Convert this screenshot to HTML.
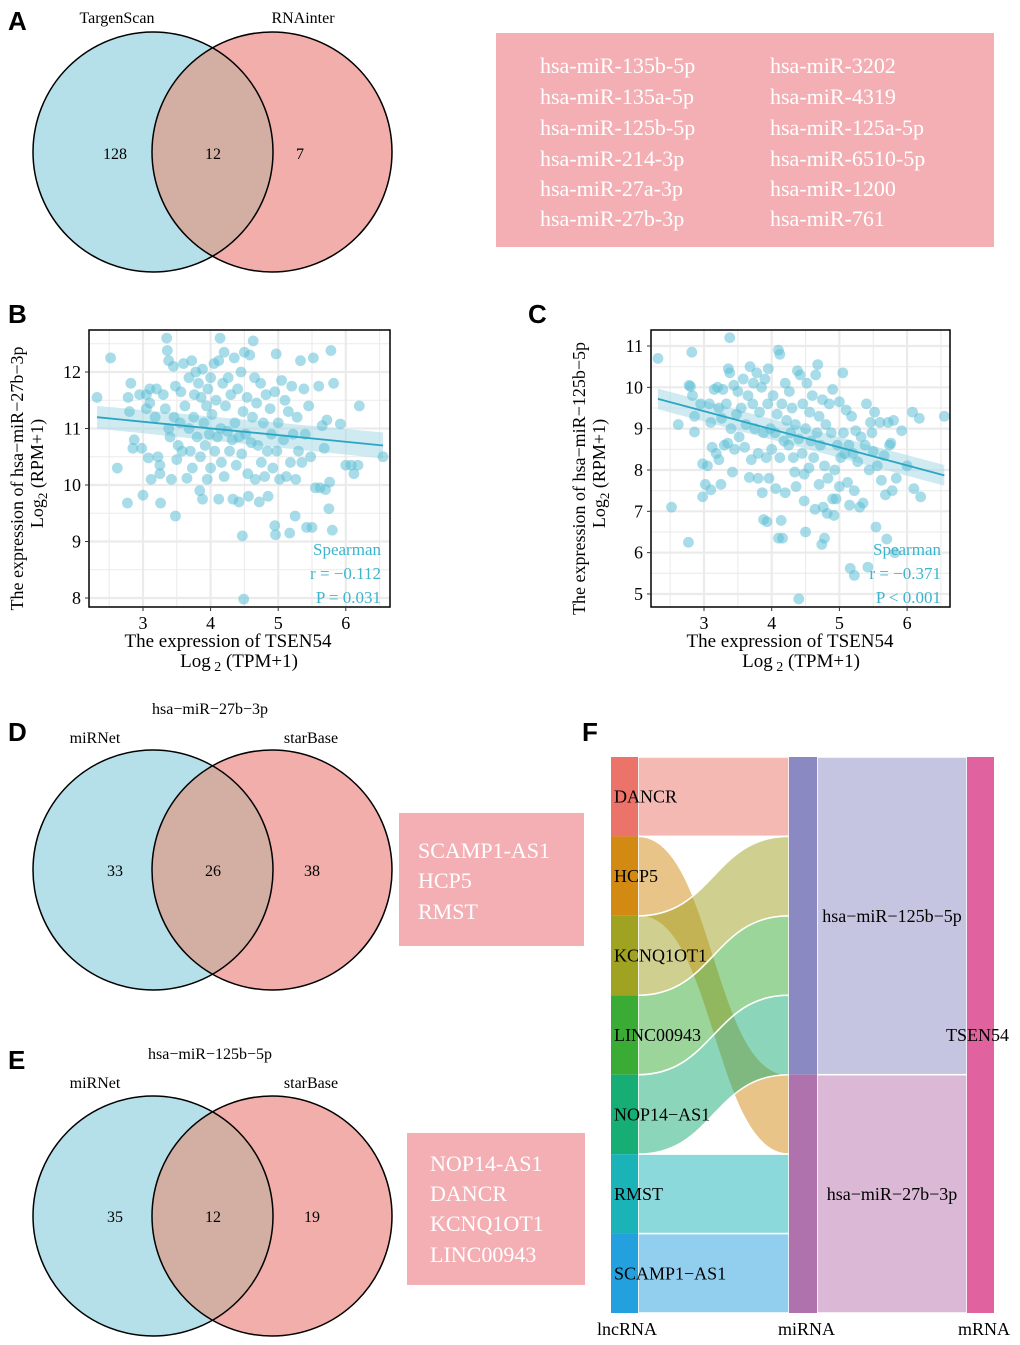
<!DOCTYPE html>
<html><head><meta charset="utf-8"><style>
html,body{margin:0;padding:0;background:#fff}
svg{display:block}
text{font-family:"Liberation Serif",serif}
.let{font-family:"Liberation Sans",sans-serif;font-weight:bold;font-size:26px}
.wt{fill:#fff;font-size:22px}
</style></head><body>
<svg id="fig" width="1020" height="1345" viewBox="0 0 1020 1345" xmlns="http://www.w3.org/2000/svg">
<defs>
<clipPath id="cA"><circle cx="153" cy="152" r="120"/></clipPath>
<clipPath id="cD"><circle cx="153" cy="870" r="120"/></clipPath>
<clipPath id="cE"><circle cx="153" cy="1216" r="120"/></clipPath>
</defs>
<text class="let" x="8" y="30">A</text>
<text class="let" x="8" y="323">B</text>
<text class="let" x="528" y="323">C</text>
<text class="let" x="8" y="741">D</text>
<text class="let" x="8" y="1069">E</text>
<text class="let" x="582" y="741">F</text>

<g>
<circle cx="153" cy="152" r="120" fill="#b5e0e9"/>
<circle cx="272" cy="152" r="120" fill="#f1aeaa"/>
<circle cx="272" cy="152" r="120" fill="#d3aea2" clip-path="url(#cA)"/>
<circle cx="153" cy="152" r="120" fill="none" stroke="#000" stroke-width="1.5"/>
<circle cx="272" cy="152" r="120" fill="none" stroke="#000" stroke-width="1.5"/>
<text x="117" y="23" font-size="16" text-anchor="middle">TargenScan</text>
<text x="303" y="23" font-size="16" text-anchor="middle">RNAinter</text>
<text x="115" y="159" font-size="16" text-anchor="middle">128</text>
<text x="213" y="159" font-size="16" text-anchor="middle">12</text>
<text x="300" y="159" font-size="16" text-anchor="middle">7</text>
</g>
<g>
<rect x="496" y="33" width="498" height="214" fill="#f3afb4"/>
<g class="wt">
<text x="540" y="73">hsa-miR-135b-5p</text><text x="770" y="73">hsa-miR-3202</text>
<text x="540" y="104">hsa-miR-135a-5p</text><text x="770" y="104">hsa-miR-4319</text>
<text x="540" y="135">hsa-miR-125b-5p</text><text x="770" y="135">hsa-miR-125a-5p</text>
<text x="540" y="166">hsa-miR-214-3p</text><text x="770" y="166">hsa-miR-6510-5p</text>
<text x="540" y="196">hsa-miR-27a-3p</text><text x="770" y="196">hsa-miR-1200</text>
<text x="540" y="226">hsa-miR-27b-3p</text><text x="770" y="226">hsa-miR-761</text>
</g></g>

<g>
<text x="210" y="714" font-size="16" text-anchor="middle">hsa−miR−27b−3p</text>
<text x="95" y="743" font-size="16" text-anchor="middle">miRNet</text>
<text x="311" y="743" font-size="16" text-anchor="middle">starBase</text>
<circle cx="153" cy="870" r="120" fill="#b5e0e9"/>
<circle cx="272" cy="870" r="120" fill="#f1aeaa"/>
<circle cx="272" cy="870" r="120" fill="#d3aea2" clip-path="url(#cD)"/>
<circle cx="153" cy="870" r="120" fill="none" stroke="#000" stroke-width="1.5"/>
<circle cx="272" cy="870" r="120" fill="none" stroke="#000" stroke-width="1.5"/>
<text x="115" y="876" font-size="16" text-anchor="middle">33</text>
<text x="213" y="876" font-size="16" text-anchor="middle">26</text>
<text x="312" y="876" font-size="16" text-anchor="middle">38</text>
</g>
<g>
<rect x="399" y="813" width="185" height="133" fill="#f3afb4"/>
<g class="wt"><text x="418" y="858">SCAMP1-AS1</text><text x="418" y="888">HCP5</text><text x="418" y="919">RMST</text></g>
</g>

<g>
<text x="210" y="1059" font-size="16" text-anchor="middle">hsa−miR−125b−5p</text>
<text x="95" y="1088" font-size="16" text-anchor="middle">miRNet</text>
<text x="311" y="1088" font-size="16" text-anchor="middle">starBase</text>
<circle cx="153" cy="1216" r="120" fill="#b5e0e9"/>
<circle cx="272" cy="1216" r="120" fill="#f1aeaa"/>
<circle cx="272" cy="1216" r="120" fill="#d3aea2" clip-path="url(#cE)"/>
<circle cx="153" cy="1216" r="120" fill="none" stroke="#000" stroke-width="1.5"/>
<circle cx="272" cy="1216" r="120" fill="none" stroke="#000" stroke-width="1.5"/>
<text x="115" y="1222" font-size="16" text-anchor="middle">35</text>
<text x="213" y="1222" font-size="16" text-anchor="middle">12</text>
<text x="312" y="1222" font-size="16" text-anchor="middle">19</text>
</g>
<g>
<rect x="407" y="1133" width="178" height="152" fill="#f3afb4"/>
<g class="wt"><text x="430" y="1171">NOP14-AS1</text><text x="430" y="1201">DANCR</text><text x="430" y="1231">KCNQ1OT1</text><text x="430" y="1262">LINC00943</text></g>
</g>

<g id="scatterB"></g>
<g id="scatterC"></g>
<g id="sankey"></g>
</svg>
<script>
const NS="http://www.w3.org/2000/svg";
const bX=[2.32,2.52,2.62,2.77,2.78,2.8,2.82,2.85,2.87,2.95,2.98,3.0,3.05,3.05,3.08,3.1,3.1,3.12,3.18,3.2,3.22,3.25,3.25,3.26,3.3,3.33,3.35,3.36,3.38,3.38,3.4,3.42,3.45,3.46,3.48,3.48,3.5,3.52,3.55,3.56,3.58,3.6,3.62,3.65,3.68,3.68,3.7,3.72,3.73,3.75,3.76,3.78,3.8,3.82,3.84,3.85,3.86,3.88,3.88,3.9,3.92,3.94,3.95,3.96,3.98,4.0,4.0,4.02,4.05,4.06,4.08,4.1,4.12,4.12,4.14,4.15,4.16,4.18,4.2,4.2,4.22,4.25,4.26,4.28,4.3,4.32,4.33,4.35,4.36,4.38,4.4,4.42,4.42,4.45,4.46,4.48,4.47,4.49,4.5,4.52,4.54,4.55,4.56,4.58,4.6,4.62,4.63,4.65,4.66,4.68,4.7,4.72,4.74,4.75,4.78,4.8,4.82,4.84,4.85,4.88,4.9,4.92,4.95,4.95,4.96,4.97,4.98,5.0,5.02,5.05,5.08,5.1,5.12,5.15,5.17,5.18,5.2,5.22,5.25,5.26,5.28,5.3,5.33,5.35,5.38,5.4,5.42,5.45,5.48,5.5,5.52,5.55,5.6,5.62,5.65,5.68,5.7,5.72,5.75,5.76,5.78,5.8,5.82,5.92,6.0,6.08,6.12,6.18,6.2,6.55];
const bY=[11.55,12.25,10.3,9.68,11.55,11.3,11.8,10.65,10.8,11.6,10.65,9.82,11.35,11.6,10.48,11.7,11.45,10.1,11.2,11.7,10.5,10.35,10.2,9.68,11.6,11.35,12.6,12.38,11.0,12.2,10.85,10.1,12.1,11.2,9.45,11.75,10.45,10.7,11.1,11.65,10.6,12.15,11.4,10.12,11.9,11.0,10.6,12.2,10.3,11.2,11.6,12.0,10.85,11.8,9.9,10.5,11.55,12.05,9.75,11.1,10.7,11.4,10.1,11.7,10.9,11.9,10.3,11.25,12.15,10.6,11.5,10.85,12.2,9.75,12.6,11.0,10.4,11.8,12.35,10.15,11.4,10.95,11.9,10.6,11.6,10.8,9.75,12.25,11.1,10.35,11.7,10.85,9.7,12.0,10.55,11.3,9.1,7.98,12.35,10.9,11.55,10.2,9.8,12.3,10.75,11.2,12.55,11.9,10.1,11.45,10.7,9.7,11.8,10.4,11.1,10.15,11.6,10.6,9.8,11.35,10.9,10.3,11.65,9.28,9.12,12.32,10.6,11.1,10.1,11.85,10.8,11.5,10.15,11.3,9.15,10.4,11.75,10.9,9.45,10.1,11.2,10.6,12.2,10.4,11.7,10.9,9.25,11.4,10.5,9.25,12.25,9.95,11.75,9.95,11.05,10.65,9.92,11.15,9.58,10.05,12.38,9.2,11.8,11.08,10.35,10.35,10.2,10.35,11.4,10.5];
const bFitX=[2.32,6.55], bFitY=[11.2,10.7];
const bXTicks=[3,4,5,6], bYTicks=[8,9,10,11,12];
const cX=[2.32,2.52,2.62,2.77,2.78,2.8,2.82,2.83,2.86,2.86,2.95,2.98,2.98,3.02,3.05,3.08,3.1,3.1,3.12,3.15,3.18,3.2,3.22,3.22,3.25,3.26,3.28,3.3,3.33,3.35,3.36,3.38,3.38,3.4,3.42,3.44,3.45,3.48,3.5,3.52,3.55,3.58,3.6,3.62,3.65,3.67,3.68,3.7,3.72,3.73,3.75,3.78,3.8,3.8,3.82,3.85,3.86,3.88,3.88,3.9,3.92,3.93,3.94,3.95,3.96,3.98,4.0,4.02,4.05,4.06,4.08,4.1,4.1,4.12,4.12,4.14,4.15,4.16,4.18,4.2,4.2,4.22,4.25,4.26,4.28,4.3,4.32,4.34,4.35,4.36,4.38,4.4,4.4,4.42,4.45,4.46,4.48,4.48,4.5,4.5,4.52,4.55,4.56,4.58,4.6,4.62,4.64,4.65,4.67,4.68,4.7,4.7,4.72,4.74,4.75,4.76,4.78,4.78,4.8,4.82,4.83,4.85,4.88,4.9,4.9,4.92,4.93,4.95,4.97,5.0,5.0,5.02,5.05,5.06,5.08,5.1,5.12,5.14,5.15,5.16,5.18,5.2,5.22,5.22,5.24,5.27,5.3,5.32,5.35,5.38,5.4,5.42,5.44,5.46,5.48,5.5,5.52,5.54,5.56,5.6,5.62,5.66,5.68,5.7,5.72,5.74,5.76,5.78,5.8,5.82,5.84,5.92,6.0,6.08,6.1,6.18,6.2,6.55];
const cY=[10.7,7.1,9.1,6.25,10.05,10.02,10.85,9.8,9.3,8.92,9.6,8.15,7.35,7.65,8.1,9.6,7.52,9.15,8.55,9.95,8.4,10.0,9.5,8.25,7.65,9.25,9.95,8.6,9.6,8.65,10.45,11.2,10.35,9.0,7.95,10.05,8.5,9.35,9.9,8.8,9.5,10.2,8.55,9.1,9.8,7.82,10.5,8.25,9.6,10.1,9.0,10.35,7.8,8.4,9.4,10.0,7.45,8.9,6.8,10.2,8.3,6.75,9.6,10.45,7.8,9.0,8.5,9.8,8.9,7.55,9.35,10.9,6.35,8.3,10.8,6.78,9.6,6.35,8.7,7.45,10.1,9.2,8.6,9.9,8.9,9.5,8.3,7.95,9.1,7.6,10.4,8.75,4.88,10.3,8.4,9.6,7.9,7.25,9.0,6.5,10.1,8.05,9.4,8.7,9.8,8.3,7.05,10.3,8.9,10.55,7.65,9.3,8.6,6.2,9.7,7.1,6.35,8.1,9.1,6.95,7.8,9.6,8.9,9.95,7.3,6.9,8.0,7.3,8.6,9.65,7.6,8.3,10.35,8.9,8.4,9.45,7.7,8.6,7.15,5.62,9.3,8.4,5.45,7.5,8.95,8.2,7.1,8.8,7.2,8.6,9.6,5.65,8.0,9.15,8.9,8.45,9.4,6.62,8.1,9.15,7.75,8.35,7.4,6.33,9.15,8.6,8.65,7.5,9.2,6.0,7.8,8.95,8.1,9.4,7.55,9.25,7.35,9.3];
const cFitX=[2.32,6.55], cFitY=[9.72,7.87];
const cXTicks=[3,4,5,6], cYTicks=[5,6,7,8,9,10,11];

function mk(tag,attrs,parent){const e=document.createElementNS(NS,tag);for(const k in attrs)e.setAttribute(k,attrs[k]);parent.appendChild(e);return e;}
function txt(parent,x,y,s,size,anchor,fill){const t=mk('text',{x:x,y:y,'font-size':size,'text-anchor':anchor||'start',fill:fill||'#000'},parent);t.textContent=s;return t;}

function scatter(g,box,xs,ys,xDom,yDom,xT,yT,fx,fy,band,ytitle,stats){
  const sx=v=>box.x0+(v-xDom[0])/(xDom[1]-xDom[0])*(box.x1-box.x0);
  const sy=v=>box.y1-(v-yDom[0])/(yDom[1]-yDom[0])*(box.y1-box.y0);
  for(let v=Math.ceil(xDom[0]*2)/2;v<=xDom[1];v+=0.5){const maj=Number.isInteger(v);const l=mk('line',{x1:sx(v),x2:sx(v),y1:box.y0,y2:box.y1,stroke:'#ebebeb','stroke-width':maj?2.2:1.1},g);}
  for(let v=Math.ceil(yDom[0]*2)/2;v<=yDom[1];v+=0.5){const maj=Number.isInteger(v);const l=mk('line',{y1:sy(v),y2:sy(v),x1:box.x0,x2:box.x1,stroke:'#ebebeb','stroke-width':maj?2.2:1.1},g);}
  const b=mk('polygon',{points:`${sx(fx[0])},${sy(fy[0]+band[0])} ${sx(fx[1])},${sy(fy[1]+band[1])} ${sx(fx[1])},${sy(fy[1]-band[1])} ${sx(fx[0])},${sy(fy[0]-band[0])}`,fill:'#aad9e6',opacity:0.55},g);
  
  for(let i=0;i<xs.length;i++){const c=mk('circle',{cx:sx(xs[i]),cy:sy(ys[i]),r:5.4,fill:'#5ec0d6','fill-opacity':0.55},g);
    }
  const ln=mk('line',{x1:sx(fx[0]),y1:sy(fy[0]),x2:sx(fx[1]),y2:sy(fy[1]),stroke:'#2aa5c4','stroke-width':1.8},g);
  
  const r=mk('rect',{x:box.x0,y:box.y0,width:box.x1-box.x0,height:box.y1-box.y0,fill:'none',stroke:'#000','stroke-width':1.5},g);
  
  xT.forEach(v=>{mk('line',{x1:sx(v),x2:sx(v),y1:box.y1,y2:box.y1+4,stroke:'#333'},g);const t=txt(g,sx(v),box.y1+22,String(v),18,'middle');});
  yT.forEach(v=>{mk('line',{x1:box.x0-4,x2:box.x0,y1:sy(v),y2:sy(v),stroke:'#333'},g);const t=txt(g,box.x0-8,sy(v)+6,String(v),18,'end');});
  const xt=txt(g,box.x0+139,box.y1+40,'The  expression of TSEN54',19,'middle');
  const xt2=mk('text',{x:box.x0+150,y:box.y1+60,'font-size':19,'text-anchor':'middle'},g);xt2.innerHTML='Log<tspan font-size="14" dy="4"> 2</tspan><tspan dy="-4"> (TPM+1)</tspan>';
  
  const ymid=(box.y0+box.y1)/2+10;
  const yt=mk('text',{x:0,y:0,'font-size':18,'text-anchor':'middle',transform:`translate(${box.x0-66},${ymid}) rotate(-90)`},g);yt.textContent=ytitle;
  
  const yt2=mk('text',{x:0,y:0,'font-size':18,'text-anchor':'middle',transform:`translate(${box.x0-46},${ymid-5}) rotate(-90)`},g);yt2.innerHTML='Log<tspan font-size="13" dy="4">2</tspan><tspan dy="-4"> (RPM+1)</tspan>';
  
  stats.forEach((s,i)=>{const t=txt(g,box.x1-9,box.y1-52+i*24,s,17,'end','#3cb4cc');});
}
const boxB={x0:89,x1:390,y0:330,y1:607};
scatter(document.getElementById('scatterB'),boxB,bX,bY,[3-(143-89)/67.6,3+(390-143)/67.6],[12-(607-372)/56.5,12+(372-330)/56.5],bXTicks,bYTicks,bFitX,bFitY,[0.2,0.23],'The expression  of hsa−miR−27b−3p',['Spearman','r = −0.112','P = 0.031']);
const boxC={x0:651,x1:950,y0:330,y1:607};
scatter(document.getElementById('scatterC'),boxC,cX,cY,[3-(704-651)/67.7,3+(950-704)/67.7],[11-(607-346)/41.33,11+(346-330)/41.33],cXTicks,cYTicks,cFitX,cFitY,[0.25,0.25],'The expression  of hsa−miR−125b−5p',['Spearman','r = −0.371','P < 0.001']);

const lncNames=['DANCR','HCP5','KCNQ1OT1','LINC00943','NOP14−AS1','RMST','SCAMP1−AS1'];
const lncTarget=[0,1,0,0,0,1,1];
const mirNames=['hsa−miR−125b−5p','hsa−miR−27b−3p'];
const mrnaName='TSEN54';
const nodeCol=['#ec7369','#d28a12','#a0a222','#3aac35','#17ae76','#1ab4b8','#25a0de'];
const mirCol=['#8b89c1','#b072ad'], mirFlow=['#c5c5e1','#dab8d6'];
(function(){
  const g=document.getElementById('sankey');
  const top=757,bot=1313,n=lncNames.length,h=(bot-top)/n;
  const L0=611,L1=638,M0=789,M1=817,R0=967,R1=994;
  const cnt=[0,0];lncTarget.forEach(t=>cnt[t]++);
  const mirTop=[top,top+cnt[0]*h];
  const slot=[0,0];
  for(let m=0;m<2;m++){const r=mk('rect',{x:M1,y:mirTop[m],width:R0-M1,height:cnt[m]*h,fill:mirFlow[m],stroke:'#fff','stroke-width':1.5},g);
    }
  const flows=[];
  for(let i=0;i<n;i++){const t=lncTarget[i];const y0=top+i*h,y1=mirTop[t]+slot[t]*h;slot[t]++;flows.push([i,y0,y1]);}
  flows.forEach(([i,y0,y1])=>{const xm=(L1+M0)/2;
    const d=`M${L1},${y0} C${xm},${y0} ${xm},${y1} ${M0},${y1} L${M0},${y1+h} C${xm},${y1+h} ${xm},${y0+h} ${L1},${y0+h} Z`;
    const p=mk('path',{d:d,fill:nodeCol[i],'fill-opacity':0.5,stroke:'#fff','stroke-width':1.5},g);
    });
  for(let i=0;i<n;i++){const r=mk('rect',{x:L0,y:top+i*h,width:L1-L0,height:h,fill:nodeCol[i]},g);
    
    const t=txt(g,614,top+i*h+h/2+6,lncNames[i],18,'start');}
  for(let m=0;m<2;m++){const r=mk('rect',{x:M0,y:mirTop[m],width:M1-M0,height:cnt[m]*h,fill:mirCol[m]},g);
    
    const t=txt(g,M1+75,mirTop[m]+cnt[m]*h/2+6,mirNames[m],18,'middle');}
  const rr=mk('rect',{x:R0,y:top,width:R1-R0,height:bot-top,fill:'#e0629f'},g);
  
  const tt=txt(g,946,(top+bot)/2+6,mrnaName,18,'start');
  [['lncRNA',597],['miRNA',778],['mRNA',958]].forEach(([s,x])=>{const t=txt(g,x,1335,s,18,'start');});
})();
</script>
</body></html>
